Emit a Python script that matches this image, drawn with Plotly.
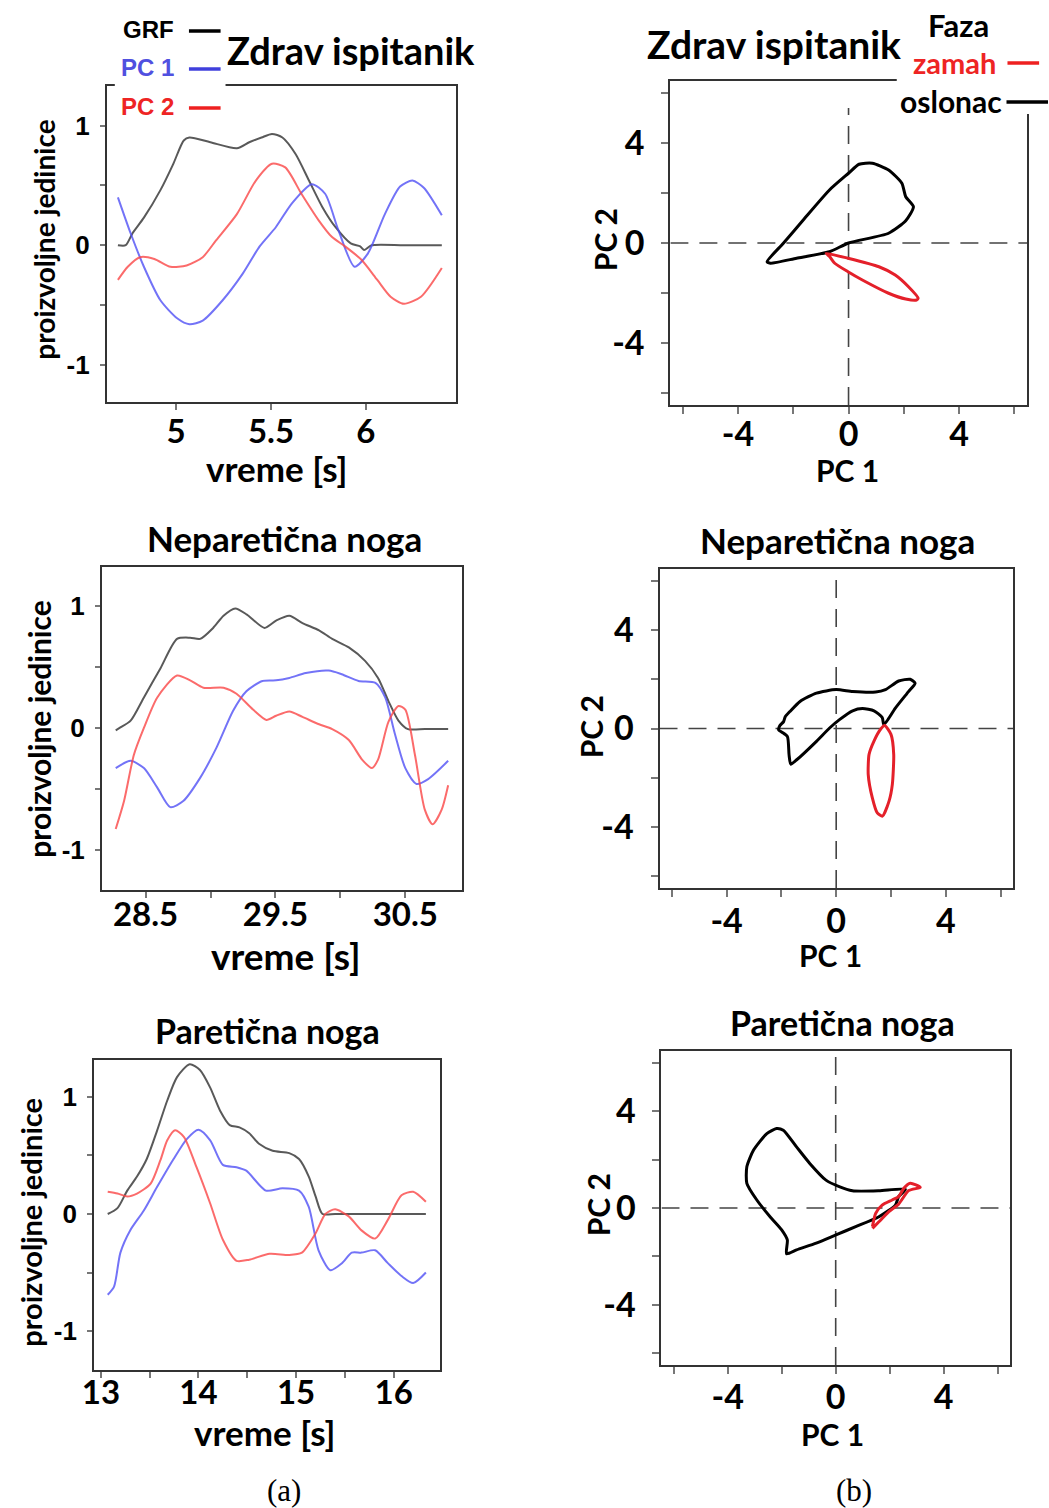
import plotly.graph_objects as go

W, H = 1049, 1508

# ---------------- DATA ----------------
# Panel (a) top: Zdrav ispitanik
a1_grf_t = [4.693, 4.734, 4.77, 4.83, 4.917, 4.985, 5.04, 5.07, 5.18, 5.32, 5.385, 5.45, 5.505, 5.56, 5.63, 5.70, 5.77, 5.84, 5.92, 5.97, 5.99, 6.03, 6.2, 6.40]
a1_grf = [0, 0, 0.1, 0.23, 0.46, 0.68, 0.875, 0.9, 0.86, 0.81, 0.86, 0.9, 0.93, 0.9, 0.76, 0.54, 0.32, 0.15, 0.015, -0.01, -0.04, 0, 0, 0]
a1_pc1_t = [4.693, 4.76, 4.83, 4.917, 5.005, 5.07, 5.14, 5.245, 5.35, 5.44, 5.525, 5.61, 5.715, 5.785, 5.855, 5.94, 6.01, 6.10, 6.18, 6.245, 6.305, 6.40]
a1_pc1 = [0.4, 0.1, -0.18, -0.46, -0.61, -0.66, -0.63, -0.46, -0.24, -0.01, 0.15, 0.35, 0.51, 0.43, 0.125, -0.18, -0.07, 0.26, 0.49, 0.54, 0.48, 0.25]
a1_pc2_t = [4.693, 4.745, 4.81, 4.885, 4.97, 5.055, 5.14, 5.21, 5.32, 5.42, 5.505, 5.575, 5.66, 5.75, 5.82, 5.89, 5.975, 6.06, 6.13, 6.20, 6.29, 6.40]
a1_pc2 = [-0.29, -0.18, -0.1, -0.115, -0.18, -0.17, -0.1, 0.04, 0.26, 0.54, 0.68, 0.65, 0.43, 0.21, 0.07, -0.01, -0.12, -0.29, -0.43, -0.49, -0.43, -0.19]

# Panel (a) middle: Neparetična noga
a2_grf_t = [28.27, 28.3, 28.385, 28.487, 28.615, 28.742, 28.843, 28.92, 29.02, 29.1, 29.19, 29.28, 29.416, 29.505, 29.607, 29.708, 29.836, 29.937, 30.065, 30.19, 30.29, 30.37, 30.447, 30.52, 30.65, 30.83]
a2_grf = [-0.02, 0.0, 0.06, 0.25, 0.49, 0.73, 0.74, 0.73, 0.82, 0.92, 0.98, 0.93, 0.82, 0.88, 0.92, 0.86, 0.80, 0.73, 0.66, 0.55, 0.41, 0.22, 0.06, -0.01, -0.01, -0.01]
a2_pc1_t = [28.27, 28.385, 28.487, 28.59, 28.69, 28.79, 28.92, 29.047, 29.174, 29.276, 29.40, 29.505, 29.607, 29.734, 29.91, 30.01, 30.14, 30.27, 30.345, 30.42, 30.5, 30.586, 30.676, 30.83]
a2_pc1 = [-0.33, -0.27, -0.33, -0.49, -0.65, -0.60, -0.41, -0.16, 0.14, 0.30, 0.385, 0.39, 0.41, 0.45, 0.47, 0.44, 0.385, 0.37, 0.25, -0.05, -0.33, -0.46, -0.42, -0.27]
a2_pc2_t = [28.27, 28.334, 28.41, 28.487, 28.59, 28.742, 28.843, 28.945, 29.10, 29.2, 29.327, 29.43, 29.505, 29.607, 29.708, 29.836, 29.937, 30.065, 30.167, 30.243, 30.29, 30.37, 30.447, 30.5, 30.574, 30.65, 30.71, 30.78, 30.83]
a2_pc2 = [-0.83, -0.6, -0.22, 0.0, 0.25, 0.43, 0.39, 0.33, 0.33, 0.28, 0.15, 0.065, 0.1, 0.135, 0.09, 0.03, -0.01, -0.1, -0.26, -0.33, -0.26, 0.05, 0.18, 0.15, -0.22, -0.67, -0.79, -0.67, -0.47]

# Panel (a) bottom: Paretična noga
a3_grf_t = [13.07, 13.17, 13.27, 13.37, 13.47, 13.575, 13.68, 13.78, 13.91, 14.015, 14.12, 14.22, 14.32, 14.42, 14.52, 14.62, 14.76, 14.93, 15.03, 15.13, 15.2, 15.27, 15.4, 15.7, 16.33]
a3_grf = [0.0, 0.05, 0.2, 0.32, 0.47, 0.71, 0.97, 1.17, 1.28, 1.23, 1.08, 0.885, 0.76, 0.74, 0.69, 0.60, 0.54, 0.52, 0.47, 0.32, 0.15, 0.0, 0.0, 0.0, 0.0]
a3_pc1_t = [13.07, 13.135, 13.2, 13.3, 13.44, 13.575, 13.745, 13.88, 14.0, 14.12, 14.25, 14.39, 14.49, 14.69, 14.86, 15.03, 15.13, 15.23, 15.35, 15.47, 15.57, 15.67, 15.81, 15.94, 16.08, 16.2, 16.33]
a3_pc1 = [-0.69, -0.62, -0.33, -0.14, 0.03, 0.23, 0.47, 0.64, 0.72, 0.63, 0.42, 0.40, 0.37, 0.2, 0.22, 0.20, 0.06, -0.31, -0.48, -0.42, -0.33, -0.33, -0.31, -0.42, -0.53, -0.59, -0.50]
a3_pc2_t = [13.07, 13.17, 13.27, 13.37, 13.51, 13.61, 13.68, 13.76, 13.85, 13.98, 14.12, 14.25, 14.39, 14.52, 14.73, 14.93, 15.06, 15.2, 15.3, 15.4, 15.54, 15.67, 15.81, 15.94, 16.08, 16.2, 16.33]
a3_pc2 = [0.19, 0.175, 0.15, 0.175, 0.26, 0.46, 0.63, 0.715, 0.66, 0.40, 0.09, -0.22, -0.40, -0.39, -0.34, -0.35, -0.33, -0.165, 0.0, 0.04, -0.02, -0.14, -0.21, -0.05, 0.16, 0.19, 0.105]

# Panel (b) top: Zdrav ispitanik (PC1 vs PC2)
b1_osl_pc1 = [0.0, 1.45, 2.07, 2.35, 2.07, 1.93, 1.45, 0.86, 0.38, 0.0, -0.69, -1.64, -2.36, -2.95, -2.83, -1.88, -0.69, 0.0]
b1_osl_pc2 = [0.0, 0.39, 0.89, 1.45, 1.85, 2.39, 2.92, 3.19, 3.15, 2.79, 2.12, 0.92, -0.01, -0.75, -0.81, -0.61, -0.35, 0.0]
b1_zam_pc1 = [-0.81, -0.02, 1.10, 1.69, 2.17, 2.52, 2.46, 2.07, 1.45, 0.5, -0.02, -0.5, -0.68, -0.81]
b1_zam_pc2 = [-0.41, -0.61, -0.95, -1.28, -1.75, -2.21, -2.28, -2.24, -2.01, -1.48, -1.15, -0.81, -0.55, -0.41]

# Panel (b) middle: Neparetična noga
b2_osl_pc1 = [1.74, 2.16, 2.64, 2.88, 2.70, 2.28, 1.80, 1.44, 0.6, 0.0, -0.72, -1.32, -1.69, -1.86, -1.92, -2.06, -2.1, -1.98, -1.78, -1.72, -1.66, -1.44, -0.72, -0.24, 0.12, 0.6, 0.96, 1.38, 1.68, 1.74]
b2_osl_pc2 = [0.15, 0.83, 1.5, 1.84, 2.0, 1.93, 1.58, 1.48, 1.5, 1.58, 1.44, 1.10, 0.69, 0.48, 0.28, 0.11, -0.06, -0.15, -0.33, -1.07, -1.45, -1.27, -0.52, 0.02, 0.36, 0.72, 0.81, 0.72, 0.45, 0.15]
b2_zam_pc1 = [1.77, 2.0, 2.1, 2.05, 1.93, 1.69, 1.50, 1.32, 1.17, 1.2, 1.38, 1.62, 1.77]
b2_zam_pc2 = [0.12, -0.24, -1.05, -2.27, -2.95, -3.56, -3.43, -2.82, -1.87, -1.05, -0.51, -0.03, 0.12]

# Panel (b) bottom: Paretična noga
b3_osl_pc1 = [2.21, 1.6, 0.74, 0.01, -0.72, -1.45, -1.82, -1.79, -2.0, -2.43, -2.92, -3.29, -3.29, -3.04, -2.55, -2.19, -1.94, -1.45, -0.96, -0.36, 0.13, 0.62, 1.6, 2.58, 2.33, 2.21]
b3_osl_pc2 = [0.12, -0.36, -0.77, -1.11, -1.45, -1.73, -1.89, -1.32, -0.9, -0.36, 0.33, 1.02, 1.70, 2.39, 3.07, 3.28, 3.21, 2.52, 1.84, 1.15, 0.88, 0.71, 0.71, 0.77, 0.47, 0.12]
b3_zam_pc1 = [1.36, 1.48, 1.72, 2.09, 2.33, 2.52, 2.76, 3.13, 2.70, 2.33, 1.97, 1.6, 1.36]
b3_zam_pc2 = [-0.77, -0.22, 0.12, 0.33, 0.47, 0.81, 1.02, 0.85, 0.72, 0.16, -0.15, -0.57, -0.84]

left_titles = ["Zdrav ispitanik", "Neparetična noga", "Paretična noga"]
right_titles = ["Zdrav ispitanik", "Neparetična noga", "Paretična noga"]
legend_a = ["GRF", "PC 1", "PC 2"]
legend_b = ["Faza", "zamah", "oslonac"]
x_title_a = "vreme [s]"
y_title_a = "proizvoljne jedinice"
x_title_b = "PC 1"
y_title_b = "PC 2"

a_xticks = [[5, 5.5, 6], [28.5, 29, 29.5, 30, 30.5], [13, 13.5, 14, 14.5, 15, 15.5, 16, 16.5]]
a_xtext = [["5", "5.5", "6"], ["28.5", "", "29.5", "", "30.5"], ["13", "", "14", "", "15", "", "16", ""]]
a_yticks = [-1, -0.5, 0, 0.5, 1]
a_ytext = ["-1", "", "0", "", "1"]
b_ticks = [-6, -4, -2, 0, 2, 4, 6]
b_text = ["", "-4", "", "0", "", "4", ""]

# ---------------- LAYOUT HELPERS ----------------
def fx(px):
    return px / W

def fy(py):
    return 1 - py / H

# pixel boxes (left, top, right, bottom)
boxes = [
    (96, 86, 449, 402),    # a1
    (666, 81, 1027, 405),  # b1
    (91, 567, 455, 890),   # a2
    (655, 569, 1013, 888), # b2
    (83, 1060, 433, 1370), # a3
    (657, 1051, 1010, 1365) # b3
]
a_xranges = [[4.635, 6.474], [28.164, 30.935], [12.93, 16.475]]
a_yranges = [[-1.31, 1.33], [-1.33, 1.32], [-1.333, 1.316]]
b_xrange = [-6.45, 6.47]
b_yrange = [-6.48, 6.48]
a_xstand = [-7, -12, -14]
b_xstand = [-9, -5, -6]

GRF_C = "rgba(60,60,60,0.85)"
PC1_C = "rgba(80,80,245,0.8)"
PC2_C = "rgba(250,70,70,0.8)"
OSL_C = "black"
ZAM_C = "#e4202a"

fig = go.Figure()

a_data = [
    (a1_grf_t, a1_grf, a1_pc1_t, a1_pc1, a1_pc2_t, a1_pc2),
    (a2_grf_t, a2_grf, a2_pc1_t, a2_pc1, a2_pc2_t, a2_pc2),
    (a3_grf_t, a3_grf, a3_pc1_t, a3_pc1, a3_pc2_t, a3_pc2),
]
b_data = [
    (b1_osl_pc1, b1_osl_pc2, b1_zam_pc1, b1_zam_pc2),
    (b2_osl_pc1, b2_osl_pc2, b2_zam_pc1, b2_zam_pc2),
    (b3_osl_pc1, b3_osl_pc2, b3_zam_pc1, b3_zam_pc2),
]

layout = dict(
    width=W, height=H, margin=dict(l=0, r=0, t=0, b=0),
    paper_bgcolor="white", plot_bgcolor="white", showlegend=False,
)
annotations = []
shapes = []

def ann(text, px, py, size, color="black", family="Lato", weight="bold", angle=0,
        xanchor="center", yanchor="middle"):
    annotations.append(dict(
        text=text, x=fx(px), y=fy(py), xref="paper", yref="paper",
        showarrow=False, textangle=angle, xanchor=xanchor, yanchor=yanchor,
        font=dict(family=family, size=size, color=color, weight=weight)))

axis_common = dict(showline=True, mirror=True, linecolor="#333", linewidth=2,
                   showgrid=False, zeroline=False, ticks="outside", tickcolor="#777",
                   tickwidth=1.5, fixedrange=True)

for i in range(6):
    n = i + 1
    xa = "xaxis" if n == 1 else f"xaxis{n}"
    ya = "yaxis" if n == 1 else f"yaxis{n}"
    xr = "x" if n == 1 else f"x{n}"
    yr = "y" if n == 1 else f"y{n}"
    l, t, r, b = boxes[i]
    row = i // 2
    if i % 2 == 0:
        gt, g, p1t, p1, p2t, p2 = a_data[row]
        for tt, vv, cc in ((gt, g, GRF_C), (p1t, p1, PC1_C), (p2t, p2, PC2_C)):
            fig.add_trace(go.Scatter(x=tt, y=vv, mode="lines", xaxis=xr, yaxis=yr,
                                     line=dict(color=cc, width=2, shape="spline", smoothing=0.7)))
        layout[xa] = dict(axis_common, domain=[fx(l), fx(r)], range=a_xranges[row], anchor=yr,
                          tickvals=a_xticks[row], ticktext=a_xtext[row], ticklen=6,
                          ticklabelstandoff=a_xstand[row],
                          tickfont=dict(family="Lato", size=33, color="black", weight="bold"))
        layout[ya] = dict(axis_common, domain=[fy(b), fy(t)], range=a_yranges[row], anchor=xr,
                          tickvals=a_yticks, ticktext=a_ytext, ticklen=5,
                          ticklabelstandoff=5,
                          tickfont=dict(family="Liberation Sans", size=26, color="black", weight="bold"))
    else:
        op1, op2, zp1, zp2 = b_data[row]
        ytop = 5.4 if row == 0 else b_yrange[1]
        shapes.append(dict(type="line", xref=xr, yref=yr, x0=0, x1=0, y0=b_yrange[0], y1=ytop,
                           line=dict(color="#444", width=1.6, dash="18px,11px"), layer="below"))
        shapes.append(dict(type="line", xref=xr, yref=yr, x0=b_xrange[0], x1=b_xrange[1], y0=0, y1=0,
                           line=dict(color="#444", width=1.6, dash="18px,11px"), layer="below"))
        fig.add_trace(go.Scatter(x=op1, y=op2, mode="lines", xaxis=xr, yaxis=yr,
                                 line=dict(color=OSL_C, width=3, shape="spline", smoothing=0.6)))
        fig.add_trace(go.Scatter(x=zp1, y=zp2, mode="lines", xaxis=xr, yaxis=yr,
                                 line=dict(color=ZAM_C, width=3, shape="spline", smoothing=0.6)))
        layout[xa] = dict(axis_common, domain=[fx(l), fx(r)], range=b_xrange, anchor=yr,
                          tickvals=b_ticks, ticktext=b_text, ticklen=7,
                          ticklabelstandoff=b_xstand[row],
                          tickfont=dict(family="Lato", size=34, color="black", weight="bold"))
        layout[ya] = dict(axis_common, domain=[fy(b), fy(t)], range=b_yrange, anchor=xr,
                          tickvals=b_ticks, ticktext=b_text, ticklen=7, ticklabelstandoff=10,
                          tickfont=dict(family="Lato", size=34, color="black", weight="bold"))

# gaps in box borders where legends sit
shapes.append(dict(type="rect", xref="paper", yref="paper", x0=fx(104), x1=fx(216), y0=fy(91), y1=fy(80),
                   fillcolor="white", line=dict(width=0), layer="above"))
shapes.append(dict(type="rect", xref="paper", yref="paper", x0=fx(895), x1=fx(1035), y0=fy(114), y1=fy(75),
                   fillcolor="white", line=dict(width=0), layer="above"))

# legend (a)
leg_cols_a = ["black", "#5050e0", "#ee2424"]
leg_line_a = ["black", "#4040dd", "#ee2020"]
for k, (txt, yy) in enumerate(zip(legend_a, [29, 67, 106])):
    ann(txt, 166, yy, 24, color=leg_cols_a[k], family="Liberation Sans", weight="bold", xanchor="right")
    shapes.append(dict(type="line", xref="paper", yref="paper", x0=fx(179), x1=fx(211), y0=fy(yy + 2), y1=fy(yy + 2),
                       line=dict(color=leg_line_a[k], width=3.5)))

# legend (b)
ann(legend_b[0], 957, 25, 31)
ann(legend_b[1], 997, 62, 29, color="#ee2424", xanchor="right")
shapes.append(dict(type="line", xref="paper", yref="paper", x0=fx(1007), x1=fx(1039), y0=fy(63), y1=fy(63),
                   line=dict(color="#ee2020", width=3.5)))
ann(legend_b[2], 1003, 101, 30, xanchor="right")
shapes.append(dict(type="line", xref="paper", yref="paper", x0=fx(1006), x1=fx(1048), y0=fy(102), y1=fy(102),
                   line=dict(color="black", width=3.5)))

# panel titles
ann(left_titles[0], 343, 50, 38)
ann(right_titles[0], 771, 44, 39)
ann(left_titles[1], 276, 538, 35)
ann(right_titles[1], 835, 540, 35)
ann(left_titles[2], 258, 1030, 34)
ann(right_titles[2], 840, 1022, 34)

# axis titles (a)
ann(x_title_a, 268, 468, 35)
ann(x_title_a, 277, 955, 37)
ann(x_title_a, 256, 1432, 35)
ann(y_title_a, 32, 240, 28, angle=-90)
ann(y_title_a, 27, 729, 30, angle=-90)
ann(y_title_a, 18, 1222, 29, angle=-90)
# axis titles (b)
ann(x_title_b, 845, 470, 30)
ann(x_title_b, 828, 955, 30)
ann(x_title_b, 830, 1434, 30)
ann(y_title_b, 600, 240, 30, angle=-90)
ann(y_title_b, 586, 727, 30, angle=-90)
ann(y_title_b, 593, 1205, 30, angle=-90)

# sub-figure labels
ann("(a)", 275, 1490, 31, family="Liberation Serif", weight="normal")
ann("(b)", 852, 1490, 31, family="Liberation Serif", weight="normal")

layout["annotations"] = annotations
layout["shapes"] = shapes
fig.update_layout(**layout)
fig.write_html("out.html")
